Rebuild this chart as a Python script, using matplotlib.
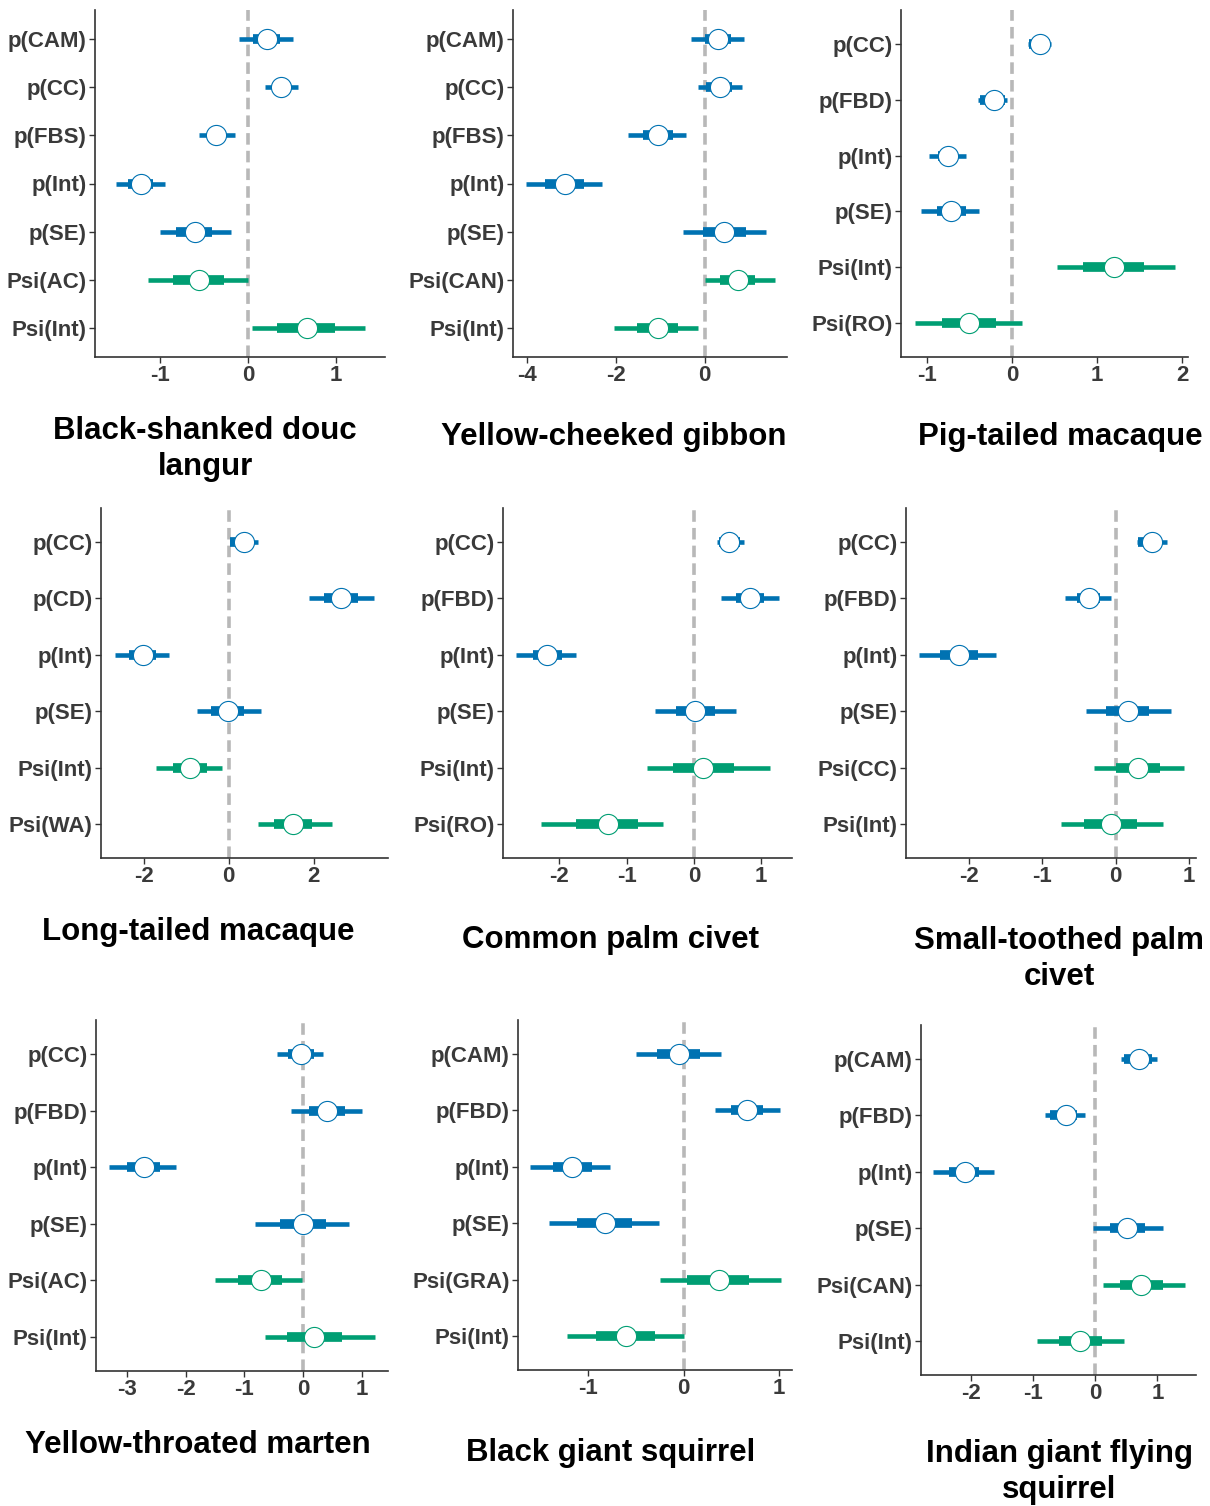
import matplotlib
matplotlib.use("Agg")
import matplotlib.pyplot as plt

plt.rcParams['font.family'] = ['Liberation Sans', 'DejaVu Sans']

# ---- data: estimate, 95% interval (outer), 50% interval (inner) ----
douc_terms = ["p(CAM)", "p(CC)", "p(FBS)", "p(Int)", "p(SE)", "Psi(AC)", "Psi(Int)"]
douc_est = [0.21, 0.38, -0.37, -1.22, -0.61, -0.56, 0.67]
douc_outer = [(-0.10, 0.51), (0.19, 0.57), (-0.56, -0.15), (-1.50, -0.95), (-1.00, -0.20), (-1.14, 0.00), (0.04, 1.33)]
douc_inner = [(0.06, 0.36), (0.29, 0.48), (-0.46, -0.27), (-1.37, -1.08), (-0.82, -0.41), (-0.86, -0.28), (0.33, 0.99)]

gibbon_terms = ["p(CAM)", "p(CC)", "p(FBS)", "p(Int)", "p(SE)", "Psi(CAN)", "Psi(Int)"]
gibbon_est = [0.30, 0.34, -1.04, -3.15, 0.44, 0.75, -1.05]
gibbon_outer = [(-0.31, 0.90), (-0.15, 0.84), (-1.72, -0.42), (-4.03, -2.31), (-0.49, 1.39), (0.02, 1.58), (-2.05, -0.15)]
gibbon_inner = [(0.00, 0.60), (0.03, 0.62), (-1.38, -0.72), (-3.59, -2.71), (-0.04, 0.93), (0.35, 1.13), (-1.53, -0.59)]

pigtail_terms = ["p(CC)", "p(FBD)", "p(Int)", "p(SE)", "Psi(Int)", "Psi(RO)"]
pigtail_est = [0.33, -0.22, -0.76, -0.72, 1.20, -0.51]
pigtail_outer = [(0.18, 0.46), (-0.40, -0.06), (-0.98, -0.54), (-1.07, -0.39), (0.53, 1.92), (-1.15, 0.12)]
pigtail_inner = [(0.20, 0.44), (-0.38, -0.09), (-0.87, -0.65), (-0.89, -0.55), (0.83, 1.55), (-0.83, -0.19)]

longtail_terms = ["p(CC)", "p(CD)", "p(Int)", "p(SE)", "Psi(Int)", "Psi(WA)"]
longtail_est = [0.36, 2.64, -2.03, -0.02, -0.91, 1.51]
longtail_outer = [(0.02, 0.68), (1.90, 3.43), (-2.68, -1.42), (-0.75, 0.76), (-1.72, -0.17), (0.68, 2.44)]
longtail_inner = [(0.03, 0.54), (2.25, 3.04), (-2.34, -1.72), (-0.42, 0.36), (-1.32, -0.52), (1.07, 1.96)]

cpcivet_terms = ["p(CC)", "p(FBD)", "p(Int)", "p(SE)", "Psi(Int)", "Psi(RO)"]
cpcivet_est = [0.53, 0.84, -2.18, 0.02, 0.14, -1.28]
cpcivet_outer = [(0.34, 0.75), (0.40, 1.27), (-2.64, -1.75), (-0.58, 0.62), (-0.70, 1.13), (-2.28, -0.46)]
cpcivet_inner = [(0.37, 0.69), (0.62, 1.05), (-2.40, -1.96), (-0.27, 0.32), (-0.31, 0.60), (-1.75, -0.83)]

stcivet_terms = ["p(CC)", "p(FBD)", "p(Int)", "p(SE)", "Psi(CC)", "Psi(Int)"]
stcivet_est = [0.50, -0.36, -2.14, 0.17, 0.30, -0.07]
stcivet_outer = [(0.29, 0.70), (-0.69, -0.06), (-2.68, -1.63), (-0.41, 0.75), (-0.29, 0.93), (-0.74, 0.65)]
stcivet_inner = [(0.31, 0.60), (-0.53, -0.21), (-2.40, -1.88), (-0.13, 0.46), (0.00, 0.61), (-0.43, 0.29)]

marten_terms = ["p(CC)", "p(FBD)", "p(Int)", "p(SE)", "Psi(AC)", "Psi(Int)"]
marten_est = [-0.03, 0.41, -2.71, 0.00, -0.72, 0.19]
marten_outer = [(-0.45, 0.34), (-0.20, 1.00), (-3.30, -2.17), (-0.81, 0.78), (-1.50, -0.02), (-0.64, 1.22)]
marten_inner = [(-0.26, 0.18), (0.11, 0.71), (-3.00, -2.43), (-0.40, 0.40), (-1.11, -0.36), (-0.28, 0.67)]

bgsq_terms = ["p(CAM)", "p(FBD)", "p(Int)", "p(SE)", "Psi(GRA)", "Psi(Int)"]
bgsq_est = [-0.05, 0.67, -1.17, -0.83, 0.37, -0.61]
bgsq_outer = [(-0.50, 0.39), (0.33, 1.01), (-1.61, -0.77), (-1.41, -0.26), (-0.25, 1.02), (-1.23, 0.01)]
bgsq_inner = [(-0.28, 0.17), (0.50, 0.83), (-1.37, -0.96), (-1.12, -0.54), (0.04, 0.69), (-0.92, -0.30)]

igfsq_terms = ["p(CAM)", "p(FBD)", "p(Int)", "p(SE)", "Psi(CAN)", "Psi(Int)"]
igfsq_est = [0.71, -0.47, -2.10, 0.51, 0.74, -0.24]
igfsq_outer = [(0.42, 1.00), (-0.80, -0.16), (-2.60, -1.62), (-0.03, 1.09), (0.12, 1.44), (-0.94, 0.46)]
igfsq_inner = [(0.46, 0.91), (-0.73, -0.30), (-2.35, -1.87), (0.24, 0.80), (0.40, 1.09), (-0.58, 0.11)]

titles = ["Black-shanked douc\nlangur", "Yellow-cheeked gibbon", "Pig-tailed macaque",
          "Long-tailed macaque", "Common palm civet", "Small-toothed palm\ncivet",
          "Yellow-throated marten", "Black giant squirrel", "Indian giant flying\nsquirrel"]

panels = [
    (douc_terms, douc_est, douc_outer, douc_inner),
    (gibbon_terms, gibbon_est, gibbon_outer, gibbon_inner),
    (pigtail_terms, pigtail_est, pigtail_outer, pigtail_inner),
    (longtail_terms, longtail_est, longtail_outer, longtail_inner),
    (cpcivet_terms, cpcivet_est, cpcivet_outer, cpcivet_inner),
    (stcivet_terms, stcivet_est, stcivet_outer, stcivet_inner),
    (marten_terms, marten_est, marten_outer, marten_inner),
    (bgsq_terms, bgsq_est, bgsq_outer, bgsq_inner),
    (igfsq_terms, igfsq_est, igfsq_outer, igfsq_inner),
]

# layout in pixels: (left, right, top, bottom), x limits, x ticks, title centre
boxes = [(95, 385, 10, 357), (513, 787, 10, 357), (901, 1188, 10, 357),
         (101, 388, 508, 858), (503, 792, 508, 858), (906, 1196, 508, 858),
         (96, 388, 1020, 1371), (518, 792, 1020, 1370), (921, 1196, 1025, 1375)]
xlims = [(-1.745, 1.56), (-4.32, 1.86), (-1.31, 2.07),
         (-3.01, 3.75), (-2.84, 1.46), (-2.86, 1.095),
         (-3.53, 1.45), (-1.74, 1.14), (-2.80, 1.62)]
xticks = [[-1, 0, 1], [-4, -2, 0], [-1, 0, 1, 2],
          [-2, 0, 2], [-2, -1, 0, 1], [-2, -1, 0, 1],
          [-3, -2, -1, 0, 1], [-1, 0, 1], [-2, -1, 0, 1]]
title_pos = [(205, 449), (614, 437), (1060, 437),
             (198, 932), (611, 940), (1059, 959),
             (198, 1445), (611, 1453), (1059, 1472)]

W, H = 1210, 1506
BLUE = "#0072B2"
GREEN = "#009E73"
AXC = "#333333"

fig = plt.figure(figsize=(W / 100, H / 100), dpi=100)

for i, (terms, est, outer, inner) in enumerate(panels):
    l, r, t, b = boxes[i]
    ax = fig.add_axes([l / W, 1 - b / H, (r - l) / W, (b - t) / H])
    n = len(terms)
    ys = [n - k for k in range(n)]
    ax.axvline(0, color="#b8b8b8", lw=2.6, ls=(0, (3.2, 1.7)), zorder=1)
    for k in range(n):
        col = GREEN if terms[k].startswith("Psi") else BLUE
        y = ys[k]
        ax.plot(outer[k], [y, y], color=col, lw=3.3, solid_capstyle="butt", zorder=2)
        ax.plot(inner[k], [y, y], color=col, lw=7.0, solid_capstyle="butt", zorder=3)
        ax.plot([est[k]], [y], "o", ms=14.5, mfc="white", mec=col, mew=0.8, zorder=4)
    ax.set_ylim(0.4, n + 0.6)
    ax.set_yticks(ys)
    ax.set_yticklabels(terms)
    ax.set_xlim(*xlims[i])
    ax.set_xticks(xticks[i])
    ax.set_xticklabels([str(v) for v in xticks[i]])
    for s in ["top", "right"]:
        ax.spines[s].set_visible(False)
    for s in ["left", "bottom"]:
        ax.spines[s].set_color(AXC)
        ax.spines[s].set_linewidth(1.2)
    ax.tick_params(axis="both", colors=AXC, length=4, width=1.0, labelsize=16, pad=2)
    for lab in ax.get_xticklabels() + ax.get_yticklabels():
        lab.set_fontweight("bold")
        lab.set_color("#3a3a3a")
    tx, ty = title_pos[i]
    fig.text(tx / W, 1 - ty / H, titles[i], ha="center", va="center",
             fontsize=22.5, fontweight="bold", color="black", linespacing=1.3)

fig.savefig("out.png", dpi=100)
